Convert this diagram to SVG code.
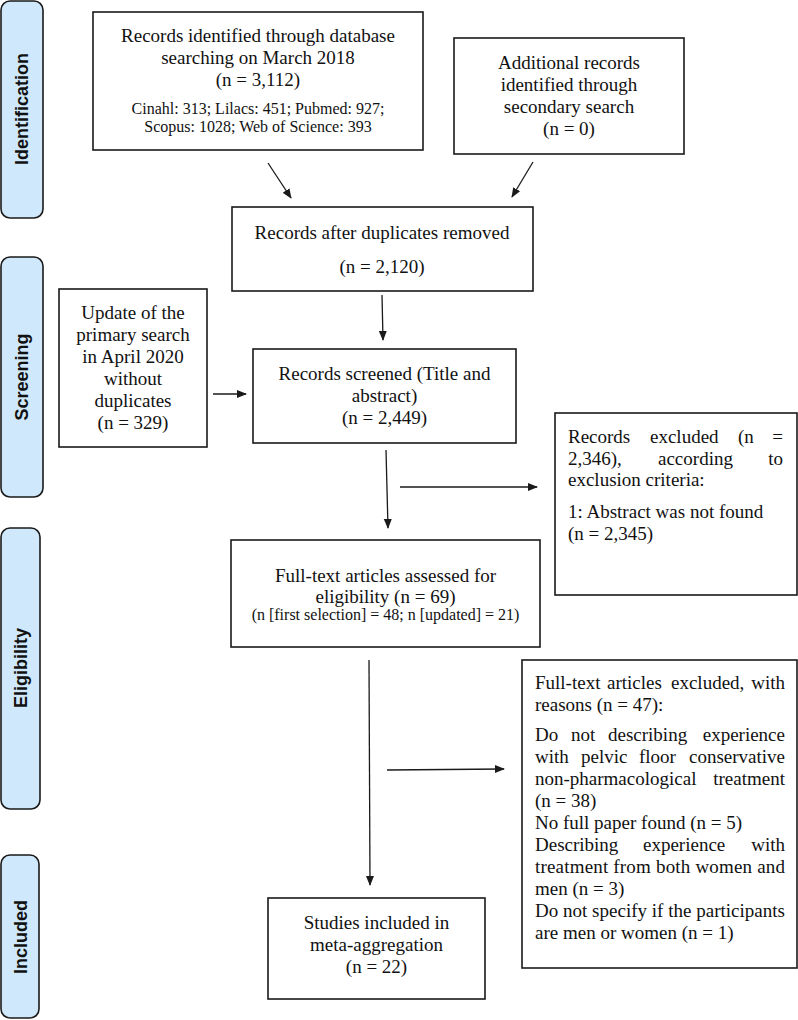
<svg xmlns="http://www.w3.org/2000/svg" width="798" height="1020" viewBox="0 0 798 1020">
<style>
.bg{fill:#ffffff}
.box{fill:#ffffff;stroke:#1a1a1a;stroke-width:1.6}
.side{fill:#cfe8fb;stroke:#1a1a1a;stroke-width:1.6}
.st{font-family:"Liberation Sans",Arial,sans-serif;font-weight:bold;font-size:18px;fill:#111;text-anchor:middle}
.t{font-family:"Liberation Serif","Times New Roman",serif;font-size:19px;fill:#111}
.c{text-anchor:middle}
.e{text-anchor:end}
.s{font-size:16px}
.ln{stroke:#1a1a1a;stroke-width:1.3;fill:none;marker-end:url(#ah)}
</style>
<defs>
<marker id="ah" markerWidth="10" markerHeight="10" refX="9" refY="5" orient="auto" markerUnits="userSpaceOnUse">
<path d="M0,1 L10,5 L0,9 Z" fill="#1a1a1a"/>
</marker>
</defs>
<rect class="bg" x="0" y="0" width="798" height="1020"/>

<g id="side-identification">
<rect class="side" x="1" y="1" width="42" height="217" rx="9"/>
<text class="st" transform="translate(28,109) rotate(-90)">Identification</text>
</g>
<g id="side-screening">
<rect class="side" x="1" y="257" width="42" height="240" rx="9"/>
<text class="st" transform="translate(28,377) rotate(-90)">Screening</text>
</g>
<g id="side-eligibility">
<rect class="side" x="1" y="528" width="39" height="281" rx="9"/>
<text class="st" transform="translate(27,668) rotate(-90)">Eligibility</text>
</g>
<g id="side-included">
<rect class="side" x="1" y="855" width="38" height="163" rx="9"/>
<text class="st" transform="translate(27,937) rotate(-90)">Included</text>
</g>

<g id="connectors">
<line class="ln" x1="268" y1="163" x2="291" y2="198"/>
<line class="ln" x1="533" y1="162" x2="512" y2="197"/>
<line class="ln" x1="382" y1="295" x2="383" y2="340"/>
<line class="ln" x1="213" y1="394" x2="246" y2="394"/>
<line class="ln" x1="386" y1="450" x2="388" y2="528"/>
<line class="ln" x1="400" y1="487" x2="537" y2="487"/>
<line class="ln" x1="369" y1="660" x2="370" y2="885"/>
<line class="ln" x1="387" y1="770" x2="504" y2="769"/>
</g>

<g id="records-identified">
<rect class="box" x="93" y="12" width="330" height="138"/>
<text class="t c" x="258" y="42">Records identified through database</text>
<text class="t c" x="258" y="64">searching on March 2018</text>
<text class="t c" x="258" y="86">(n = 3,112)</text>
<text class="t c s" x="258" y="114">Cinahl: 313; Lilacs: 451; Pubmed: 927;</text>
<text class="t c s" x="258" y="132">Scopus: 1028; Web of Science: 393</text>
</g>

<g id="additional-records">
<rect class="box" x="454" y="38" width="230" height="116"/>
<text class="t c" x="569" y="69">Additional records</text>
<text class="t c" x="569" y="91">identified through</text>
<text class="t c" x="569" y="113">secondary search</text>
<text class="t c" x="569" y="135">(n = 0)</text>
</g>

<g id="after-duplicates">
<rect class="box" x="232" y="207" width="301" height="84"/>
<text class="t c" x="382" y="239">Records after duplicates removed</text>
<text class="t c" x="382" y="273">(n = 2,120)</text>
</g>

<g id="update-search">
<rect class="box" x="59" y="289" width="148" height="158"/>
<text class="t c" x="133" y="319">Update of the</text>
<text class="t c" x="133" y="341">primary search</text>
<text class="t c" x="133" y="363">in April 2020</text>
<text class="t c" x="133" y="385">without</text>
<text class="t c" x="133" y="407">duplicates</text>
<text class="t c" x="133" y="429">(n = 329)</text>
</g>

<g id="records-screened">
<rect class="box" x="253" y="349" width="263" height="94"/>
<text class="t c" x="384.5" y="380">Records screened (Title and</text>
<text class="t c" x="384.5" y="402">abstract)</text>
<text class="t c" x="384.5" y="424">(n = 2,449)</text>
</g>

<g id="records-excluded">
<rect class="box" x="555" y="413" width="242" height="182"/>
<text class="t" x="568" y="443">Records</text>
<text class="t" x="650" y="443">excluded</text>
<text class="t" x="738" y="443">(n</text>
<text class="t e" x="783" y="443">=</text>
<text class="t" x="568" y="465">2,346),</text>
<text class="t" x="658" y="465">according</text>
<text class="t e" x="783" y="465">to</text>
<text class="t" x="568" y="486">exclusion criteria:</text>
<text class="t" x="568" y="518">1: Abstract was not found</text>
<text class="t" x="568" y="540">(n = 2,345)</text>
</g>

<g id="full-text-assessed">
<rect class="box" x="231" y="540" width="309" height="107"/>
<text class="t c" x="385.5" y="582">Full-text articles assessed for</text>
<text class="t c" x="385.5" y="603">eligibility (n = 69)</text>
<text class="t c s" x="385.5" y="620">(n [first selection] = 48; n [updated] = 21)</text>
</g>

<g id="full-text-excluded">
<rect class="box" x="522" y="660" width="275" height="308"/>
<text class="t" x="535" y="689">Full-text</text>
<text class="t" x="607" y="689">articles</text>
<text class="t" x="671" y="689">excluded,</text>
<text class="t e" x="785" y="689">with</text>
<text class="t" x="535" y="711">reasons (n = 47):</text>
<text class="t" x="535" y="741">Do</text>
<text class="t" x="571" y="741">not</text>
<text class="t" x="608" y="741">describing</text>
<text class="t e" x="785" y="741">experience</text>
<text class="t" x="535" y="763">with</text>
<text class="t" x="581" y="763">pelvic</text>
<text class="t" x="639" y="763">floor</text>
<text class="t e" x="785" y="763">conservative</text>
<text class="t" x="535" y="785">non-pharmacological</text>
<text class="t e" x="785" y="785">treatment</text>
<text class="t" x="535" y="807">(n = 38)</text>
<text class="t" x="535" y="829">No full paper found (n = 5)</text>
<text class="t" x="535" y="851">Describing</text>
<text class="t" x="643" y="851">experience</text>
<text class="t e" x="785" y="851">with</text>
<text class="t" x="535" y="873" textLength="250" lengthAdjust="spacing">treatment from both women and</text>
<text class="t" x="535" y="895">men (n = 3)</text>
<text class="t" x="535" y="917" textLength="250" lengthAdjust="spacing">Do not specify if the participants</text>
<text class="t" x="535" y="939">are men or women (n = 1)</text>
</g>

<g id="studies-included">
<rect class="box" x="268" y="898" width="217" height="101"/>
<text class="t c" x="376.5" y="929">Studies included in</text>
<text class="t c" x="376.5" y="951">meta-aggregation</text>
<text class="t c" x="376.5" y="973">(n = 22)</text>
</g>
</svg>
